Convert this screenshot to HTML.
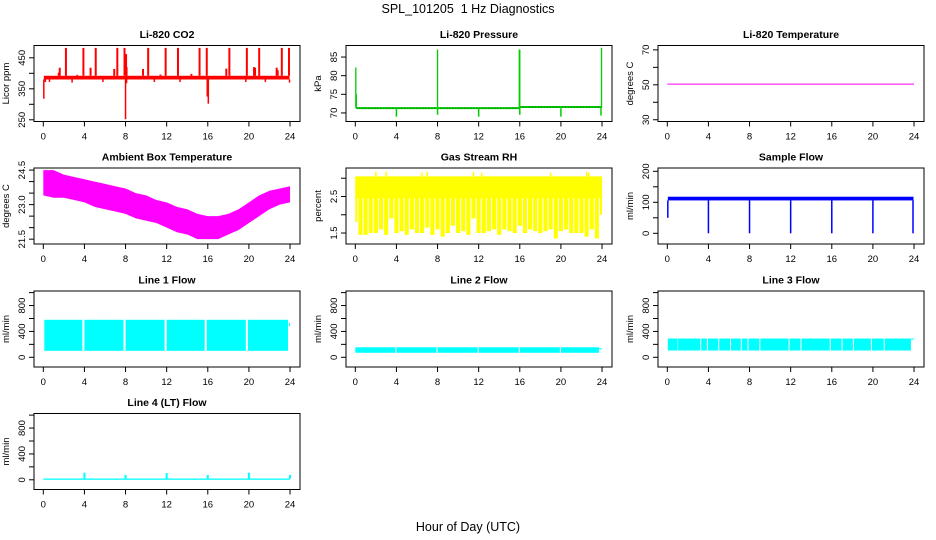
<!DOCTYPE html>
<html><head><meta charset="utf-8"><style>
html,body{margin:0;padding:0;background:#fff;}
svg{display:block;font-family:"Liberation Sans",Arial,sans-serif;}
</style></head><body>
<svg id="c" width="936" height="540" viewBox="0 0 936 540">
<text x="468" y="13" text-anchor="middle" font-size="12.5">SPL_101205&#160; 1 Hz Diagnostics</text>
<text x="468" y="531" text-anchor="middle" font-size="12.5">Hour of Day (UTC)</text>
</svg>
<script>
// ---- data ----
const xTicks = [0,4,8,12,16,20,24];
// CO2
const co2BaseLo = 380, co2BaseHi = 392;
const co2SpikeTimes = [2.2,3.9,5.1,7.2,7.9,10.2,11.9,13.1,15.2,15.9,18.1,19.8,21.0,23.2,23.9,1.6,1.5,3.3,4.6,6.9,8.05,8.1,9.7,11.4,14.4,17.8,20.5,20.6,22.7,22.8];
const co2SpikeVals  = [482,482,482,482,482,482,482,482,482,482,482,482,482,482,482,418,402,395,418,414,462,420,414,396,398,415,420,418,418,410];
const co2DipTimes = [0.05,0.2,0.6,2.8,5.8,8.0,8.1,10.8,13.3,15.95,16.05,19.7,21.6,23.95];
const co2DipVals  = [318,372,372,370,372,252,368,372,372,325,302,372,372,370];
// Pressure
const presSegStart = [0.1,16.0];
const presSegEnd   = [16.0,23.9];
const presSegVal   = [71.3,71.6];
const presSpikeTimes = [0.05,0.1,8.0,15.95,16.0,23.95];
const presSpikeVals  = [82.2,75,87,87,87,87.5];
const presDipTimes = [4,8,12,16,20,23.9];
const presDipVals  = [69,69.5,69,69.5,69,69.3];
// Li-820 temperature
const tempVal = 50.4;
// Ambient box temperature (hourly max / min)
const ambHours = [0,1,2,3,4,5,6,7,8,9,10,11,12,13,14,15,16,17,18,19,20,21,22,23,24];
const ambHi = [24.5,24.5,24.3,24.2,24.1,24.0,23.9,23.8,23.7,23.5,23.4,23.2,23.1,22.9,22.8,22.6,22.5,22.5,22.6,22.8,23.1,23.4,23.6,23.7,23.8];
const ambLo = [23.4,23.3,23.3,23.2,23.1,22.9,22.8,22.7,22.6,22.4,22.3,22.2,22.0,21.8,21.7,21.5,21.5,21.5,21.7,21.9,22.2,22.5,22.8,23.0,23.1];
// Gas stream RH (half-hourly)
const rhHi = 3.05;
const rhLo = [1.8,1.45,1.45,1.5,1.5,1.6,1.45,1.9,1.5,1.55,1.45,1.6,1.5,1.5,1.65,1.45,1.6,1.4,1.5,1.7,1.5,1.55,1.45,1.9,1.5,1.5,1.55,1.6,1.45,1.6,1.55,1.5,1.7,1.5,1.6,1.55,1.5,1.55,1.6,1.35,1.55,1.6,1.5,1.5,1.5,1.4,1.6,1.35,2.0];
const rhPeakTimes = [2,3,6.5,7,11.5,12.3,19,22.5,22.7];
const rhPeakVals  = [3.18,3.18,3.15,3.18,3.18,3.15,3.15,3.18,3.15];
// Sample flow
const sfLo = 106, sfHi = 118;
const sfDipTimes = [0.05,4,8,12,16,20,23.9];
const sfDipVals  = [50,0,0,0,0,0,0];
// Line flows
const l1Start = [0.1,4.0,8.0,12.0,15.9,19.9,23.9];
const l1End   = [3.8,7.8,11.8,15.7,19.7,23.8,24.0];
const l1Hi    = [580,580,580,580,580,580,530];
const l1Lo    = [100,100,100,100,100,100,480];
const l2Start = [0.0,4.0,8.0,12.0,16.0,20.0,23.7];
const l2End   = [3.9,7.9,11.9,15.9,19.9,23.7,24.0];
const l2Hi    = [155,155,155,155,155,155,140];
const l2Lo    = [70,70,70,70,70,70,130];
const l3Start = [0.05,1.05,3.3,3.95,5.05,6.2,7.25,7.9,9.05,11.9,13.05,15.9,17.05,18.15,19.9,21.15,23.7];
const l3End   = [1.0,3.2,3.85,4.95,6.1,7.15,7.8,8.95,11.8,12.95,15.8,16.95,18.05,19.8,21.05,23.7,24.0];
const l3Hi    = [290,290,290,290,290,290,290,290,290,290,290,290,290,290,290,290,290];
const l3Lo    = [105,105,105,105,105,105,105,105,105,105,105,105,105,105,105,105,280];
const l4Base = [0,20];
const l4SpikeTimes = [4,8,12,16,20,24];
const l4SpikeVals  = [110,75,105,75,110,75];

// ---- layout ----
const NS = "http://www.w3.org/2000/svg";
const svg = document.getElementById('c');
const colLeft = [34,346,658], rowTop = [45.5,168,291,413.5], W = 266, H = 76;
const XL = [-0.905, 24.97];
function mk(tag, attrs, parent){ const e=document.createElementNS(NS,tag); for(const k in attrs) e.setAttribute(k,attrs[k]); (parent||svg).appendChild(e); return e; }

function panel(key, title, ylab, col, row, ylim, ticks, labels, dec){
  const L=colLeft[col], T=rowTop[row];
  const g = mk('g',{});
  
  
  const xs = h => L + (h-XL[0])/(XL[1]-XL[0])*W;
  const ys = v => T + H - (v-ylim[0])/(ylim[1]-ylim[0])*H;
  const plot = mk('g',{},g);
  
  
  const frame = mk('rect',{x:L,y:T,width:W,height:H,fill:'none',stroke:'#000','stroke-width':1},g);
  
  
  const t = mk('text',{x:L+W/2,y:T-7.5,'text-anchor':'middle','font-size':10.5,'font-weight':'bold'},g);
  t.textContent = title;
  
  
  const yt = mk('text',{transform:`translate(${L-25},${T+H/2}) rotate(-90)`,'text-anchor':'middle','font-size':9.5},g);
  yt.textContent = ylab;
  
  
  const xa = mk('g',{},g);
  
  
  mk('line',{x1:xs(xTicks[0]),x2:xs(xTicks[xTicks.length-1]),y1:T+H,y2:T+H,stroke:'#000'},xa);
  xTicks.forEach(v=>{
    mk('line',{x1:xs(v),x2:xs(v),y1:T+H,y2:T+H+5,stroke:'#000'},xa);
    const tx = mk('text',{x:xs(v),y:T+H+18,'text-anchor':'middle','font-size':9.5},xa);
    tx.textContent = v;
  });
  const ya = mk('g',{},g);
  
  
  mk('line',{x1:L,x2:L,y1:ys(ticks[0]),y2:ys(ticks[ticks.length-1]),stroke:'#000'},ya);
  ticks.forEach(v=>{
    mk('line',{x1:L-5,x2:L,y1:ys(v),y2:ys(v),stroke:'#000'},ya);
    if(labels.includes(v)){
      const tx = mk('text',{transform:`translate(${L-9},${ys(v)}) rotate(-90)`,'text-anchor':'middle','font-size':9.5},ya);
      tx.textContent = v.toFixed(dec||0);
    }
  });
  return {xs,ys,plot};
}
function rect(p,x0,x1,v0,v1,color){
  const a=p.xs(x0),b=p.xs(x1),c=p.ys(v1),d=p.ys(v0);
  return mk('rect',{x:Math.min(a,b),y:Math.min(c,d),width:Math.max(Math.abs(b-a),0.8),height:Math.max(Math.abs(d-c),1),fill:color},p.plot);
}
function vline(p,t,v0,v1,color,w){
  return mk('line',{x1:p.xs(t),x2:p.xs(t),y1:p.ys(v0),y2:p.ys(v1),stroke:color,'stroke-width':w},p.plot);
}

let p = panel('co2','Li-820 CO2','Licor ppm',0,0,[244.5,489.7],[250,300,350,400,450],[250,350,450]);
rect(p,0.05,23.95,co2BaseLo,co2BaseHi,'#ff0000');
co2SpikeTimes.forEach((t,i)=>vline(p,t,co2BaseHi,co2SpikeVals[i],'#ff0000',2));
co2DipTimes.forEach((t,i)=>vline(p,t,co2BaseLo,co2DipVals[i],'#ff0000',1.5));

p = panel('pressure','Li-820 Pressure','kPa',1,0,[67.7,88.1],[70,75,80,85],[70,75,80,85]);
presSegStart.forEach((s,i)=>{ const e=presSegEnd[i], v=presSegVal[i];
  mk('line',{x1:p.xs(s),x2:p.xs(e),y1:p.ys(v),y2:p.ys(v),stroke:'#00cc00','stroke-width':2},p.plot);
  mk('line',{x1:p.xs(s),x2:p.xs(e),y1:p.ys(v),y2:p.ys(v),stroke:'#006600','stroke-width':1,'stroke-dasharray':'1 2'},p.plot);
});
presSpikeTimes.forEach((t,i)=>vline(p,t,71.3,presSpikeVals[i],'#00cc00',1.3));
presDipTimes.forEach((t,i)=>vline(p,t,71.3,presDipVals[i],'#00cc00',1.5));

p = panel('li820-temp','Li-820 Temperature','degrees C',2,0,[29,72.5],[30,40,50,60,70],[30,50,70]);
mk('line',{x1:p.xs(0),x2:p.xs(24),y1:p.ys(tempVal),y2:p.ys(tempVal),stroke:'#ff00ff','stroke-width':1},p.plot);

p = panel('ambient-temp','Ambient Box Temperature','degrees C',0,1,[21.29,24.59],[21.5,22,22.5,23,23.5,24,24.5],[21.5,23,24.5],1);
{
  let pts = ambHours.map((h,i)=>`${p.xs(h)},${p.ys(ambHi[i])}`);
  for(let i=ambHours.length-1;i>=0;i--) pts.push(`${p.xs(ambHours[i])},${p.ys(ambLo[i])}`);
  mk('polygon',{points:pts.join(' '),fill:'#ff00ff'},p.plot);
}

p = panel('gas-rh','Gas Stream RH','percent',1,1,[1.2,3.28],[1.5,2,2.5,3],[1.5,2.5],1);
rhLo.forEach((lo,i)=>{ const t=i*24/(rhLo.length-1); rect(p,Math.max(0,t-0.2),Math.min(24,t+0.2),lo,rhHi,'#ffff00'); });
rect(p,0,24,2.45,rhHi,'#ffff00');
rhPeakTimes.forEach((t,i)=>vline(p,t,rhHi,rhPeakVals[i],'#ffff00',1.5));

p = panel('sample-flow','Sample Flow','ml/min',2,1,[-34.5,210.6],[0,50,100,150,200],[0,100,200]);
rect(p,0.05,23.95,sfLo,sfHi,'#0000ff');
sfDipTimes.forEach((t,i)=>vline(p,t,sfLo,sfDipVals[i],'#0000ff',1.5));

const flowTicks=[0,200,400,600,800,1000], flowLabels=[0,400,800], flowLim=[-150,1025];
p = panel('line1-flow','Line 1 Flow','ml/min',0,2,flowLim,flowTicks,flowLabels);
l1Start.forEach((s,i)=>rect(p,s,l1End[i],l1Lo[i],l1Hi[i],'#00ffff'));
p = panel('line2-flow','Line 2 Flow','ml/min',1,2,flowLim,flowTicks,flowLabels);
l2Start.forEach((s,i)=>rect(p,s,l2End[i],l2Lo[i],l2Hi[i],'#00ffff'));
p = panel('line3-flow','Line 3 Flow','ml/min',2,2,flowLim,flowTicks,flowLabels);
l3Start.forEach((s,i)=>rect(p,s,l3End[i],l3Lo[i],l3Hi[i],'#00ffff'));
p = panel('line4-flow','Line 4 (LT) Flow','ml/min',0,3,flowLim,flowTicks,flowLabels);
rect(p,0,24,l4Base[0],l4Base[1],'#00ffff');
l4SpikeTimes.forEach((t,i)=>vline(p,t,l4Base[1],l4SpikeVals[i],'#00ffff',2));
</script>
</body></html>
